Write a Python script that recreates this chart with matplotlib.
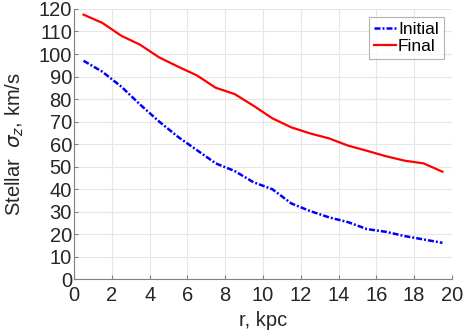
import numpy as np
import matplotlib
matplotlib.use('Agg')
import matplotlib.pyplot as plt
matplotlib.rcParams.update({'font.family': 'Liberation Sans', 'mathtext.fontset': 'dejavusans'})

# radial bins (kpc) and stellar vertical velocity dispersion (km/s)
r = [0.5, 1.5, 2.5, 3.5, 4.5, 5.5, 6.5, 7.5, 8.5, 9.5,
     10.5, 11.5, 12.5, 13.5, 14.5, 15.5, 16.5, 17.5, 18.5, 19.5]
sigma_initial = [97.0, 92.1, 85.5, 77.5, 70.0, 63.2, 57.3, 51.4, 48.0, 43.0,
                 39.9, 33.6, 30.2, 27.4, 25.3, 22.2, 21.0, 19.1, 17.6, 16.1]
sigma_final = [117.5, 113.8, 108.1, 104.1, 98.5, 94.4, 90.5, 85.0, 82.2, 77.0,
               71.4, 67.4, 64.7, 62.5, 59.3, 57.0, 54.6, 52.6, 51.4, 47.7]

fig = plt.figure(figsize=(4.63, 3.33), dpi=100)
ax = fig.add_axes([0.160, 0.162, 0.816, 0.811])

ax.plot(r, sigma_initial, color='b', linewidth=1.8, dashes=(2.4, 0.8, 0.8, 0.8), label='Initial')
ax.plot(r, sigma_final, '-', color='r', linewidth=1.6, label='Final')

ax.set_xlim(0, 20)
ax.set_ylim(0, 120)
ax.set_xticks(np.arange(0, 21, 2))
ax.set_yticks(np.arange(0, 121, 10))
ax.grid(True, color='#e6e6e6', linewidth=0.8)
ax.set_axisbelow(True)
for s in ['top', 'right']:
    ax.spines[s].set_visible(False)
for s in ['left', 'bottom']:
    ax.spines[s].set_color('#808080')
    ax.spines[s].set_linewidth(0.8)
ax.tick_params(direction='in', length=3, color='#808080', labelsize=14.5, labelcolor='#262626')
ax.tick_params(axis='x', pad=5)
ax.tick_params(axis='y', pad=1.5)

ax.set_xlabel('r, kpc', fontsize=14.5, color='#262626', labelpad=4)
ax.set_ylabel(r'Stellar  $\sigma_z$, km/s', fontsize=14.5, color='#262626', labelpad=9)

leg = ax.legend(loc='upper right', fontsize=12.5, handlelength=1.3, handletextpad=0.1,
                borderpad=0.3, labelspacing=0.1, fancybox=False, borderaxespad=0.45)
leg.get_frame().set_edgecolor('#a0a0a0')
leg.get_frame().set_linewidth(0.8)

fig.savefig('out.png', dpi=100)
